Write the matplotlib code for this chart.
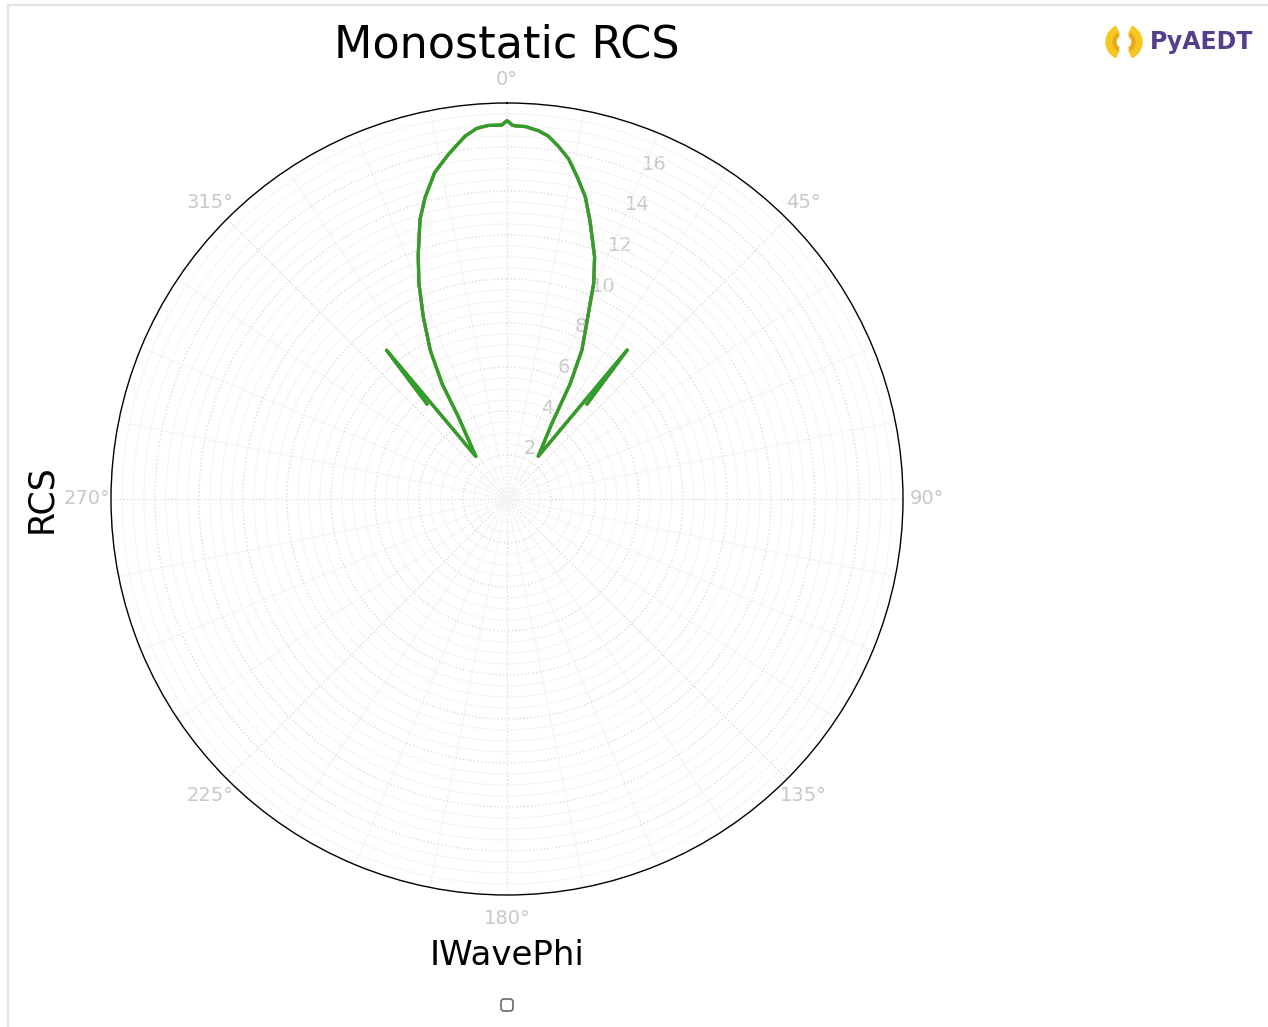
import numpy as np
import matplotlib.pyplot as plt
from matplotlib.patches import Wedge
from matplotlib.lines import Line2D
from matplotlib.ticker import MultipleLocator, FixedLocator

# monostatic RCS sweep over incident phi (deg)
iwave_phi = [-40.1, -39.0, -36.2, -30.6, -29.4, -27.3, -24.7, -22.2, -20.0, -17.3,
             -15.2, -12.5, -9.6, -6.6, -4.7, -2.9, -0.8, 0.0, 0.8, 1.3, 2.8, 4.9,
             6.5, 8.3, 10.3, 12.25, 14.5, 16.6, 19.9, 21.9, 23.9, 26.7, 28.7, 30.7,
             36.2, 38.9, 40.1]
rcs = [5.65, 8.7, 2.4, 4.35, 6.0, 7.6, 9.1, 10.6, 11.8, 13.3,
       14.2, 15.2, 15.9, 16.6, 16.9, 17.0, 17.0, 17.2, 17.0, 16.96, 16.95, 16.8,
       16.6, 16.2, 15.7, 15.0, 14.2, 13.2, 11.7, 10.56, 9.07, 7.58, 6.0, 4.0,
       2.4, 8.7, 5.65]

trace_colors = ["C0", "C1", "C2"]
r_ticks = [2, 4, 6, 8, 10, 12, 14, 16]
theta_ticks = [0, 45, 90, 135, 180, 225, 270, 315]

W, H = 1268, 1027
fig = plt.figure(figsize=(W / 100, H / 100), dpi=100)

ax = fig.add_axes([111 / W, 1 - 895 / H, 792 / W, 792 / H], projection="polar")
ax.set_theta_zero_location("N")
ax.set_theta_direction(-1)

theta = np.deg2rad(iwave_phi)
for c in trace_colors:
    ax.plot(theta, rcs, color=c, linewidth=2.3)

ax.set_rlim(0, 18)
ax.set_rticks(r_ticks)
ax.yaxis.set_minor_locator(MultipleLocator(0.5))
ax.set_rlabel_position(22.5)
ax.set_xticks(np.deg2rad(theta_ticks))
ax.set_xticklabels([f"{t}°" for t in theta_ticks])
ax.xaxis.set_minor_locator(FixedLocator(np.deg2rad(np.arange(0, 360, 11.25))))

ax.grid(which="major", color="#dcdcdc", linestyle=":", linewidth=1.0)
ax.grid(which="minor", color="#f4f4f4", linestyle="-", linewidth=0.8)
ax.tick_params(axis="both", which="both", length=0, labelsize=14, labelcolor="#c8c8c8")
ax.tick_params(axis="x", pad=10)
ax.spines["polar"].set_color("black")
ax.spines["polar"].set_linewidth(1.0)

ax.set_title("Monostatic RCS", fontsize=32, y=1 + 50 / 792, va="center")
ax.set_xlabel("IWavePhi", fontsize=24.5, labelpad=8)
ax.set_ylabel("RCS", fontsize=25, labelpad=38)

# empty legend box under the plot
leg = fig.legend(handles=[], loc="center", bbox_to_anchor=(507 / W, 1 - 1005 / H),
                 fontsize=10, frameon=True, fancybox=True)
leg.get_frame().set_edgecolor("#444444")
leg.get_frame().set_linewidth(1.2)

# frame around the output cell
fig.add_artist(Line2D([8 / W, 8 / W], [0, 1 - 5 / H], color="#e2e2e2", linewidth=1.5))
fig.add_artist(Line2D([8 / W, 1], [1 - 5 / H, 1 - 5 / H], color="#e2e2e2", linewidth=1.5))

# PyAEDT logo
lax = fig.add_axes([1100 / W, 1 - 64 / H, 48 / W, 44 / H])
lax.set_xlim(0, 48)
lax.set_ylim(0, 44)
lax.set_aspect("equal")
lax.axis("off")
cx, cy = 24, 22
lax.add_patch(Wedge((cx - 1, cy), 17, 115, 245, width=8, color="#f6c623"))
lax.add_patch(Wedge((cx - 1, cy), 10, 125, 235, width=3, color="#e8a81c"))
lax.add_patch(Wedge((cx + 1, cy), 17, -65, 65, width=8, color="#f6c623"))
lax.add_patch(Wedge((cx + 1, cy), 10, -55, 55, width=3, color="#e8a81c"))
fig.text(1150 / W, 1 - 42 / H, "PyAEDT", fontsize=17, fontweight="bold",
         color="#533f8a", ha="left", va="center")

fig.savefig("out.png", dpi=100)
